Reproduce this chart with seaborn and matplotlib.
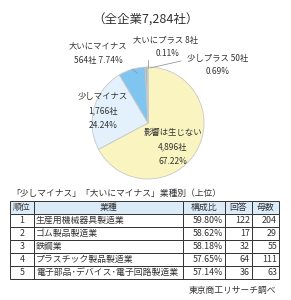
import matplotlib
matplotlib.use('Agg')
import matplotlib.pyplot as plt
from matplotlib.patches import Rectangle
import seaborn as sns

# pie data (clockwise from the top)
categories = ['影響は生じない', '少しマイナス', '大いにマイナス', '少しプラス', '大いにプラス']
companies = [4896, 1766, 564, 50, 8]
shares = [67.22, 24.24, 7.74, 0.69, 0.11]

# table data
table_title = '「少しマイナス」「大いにマイナス」業種別（上位）'
headers = ['順位', '業種', '構成比', '回答', '母数']
ranks = [1, 2, 3, 4, 5]
industries = ['生産用機械器具製造業', 'ゴム製品製造業', '鉄鋼業', 'プラスチック製品製造業',
              '電子部品･デバイス･電子回路製造業']
ratios = [59.80, 58.62, 58.18, 57.65, 57.14]
answers = [122, 17, 32, 64, 36]
totals = [204, 29, 55, 111, 63]

sns.set_theme(style='white')
plt.rcParams['font.family'] = ['Noto Sans CJK JP', 'DejaVu Sans']

W, H = 291, 300
fig = plt.figure(figsize=(W / 100, H / 100), dpi=100)
ax = fig.add_axes([0, 0, 1, 1])

def Y(py):
    return H - py

txt = '#333333'
colors = ['#faf5c0', '#e3f1fc', '#80c4f0', '#b5b5b5', '#9a9a9a']
ax.pie(shares, colors=colors, startangle=90, counterclock=False,
       center=(148, Y(123)), radius=56, frame=True,
       wedgeprops=dict(edgecolor='#c8c8c8', linewidth=0.6))
ax.set_xlim(0, W)
ax.set_ylim(0, H)
ax.axis('off')

ax.text(145, Y(20), '（全企業7,284社）', ha='center', va='center', fontsize=9, color=txt)

fs = 6
ax.text(173, Y(132), categories[0], ha='center', va='center', fontsize=fs, color=txt)
ax.text(173, Y(147), f'{companies[0]:,}社', ha='center', va='center', fontsize=fs, color=txt)
ax.text(173, Y(161), f'{shares[0]:.2f}%', ha='center', va='center', fontsize=fs, color=txt)

ax.text(103, Y(97), categories[1], ha='center', va='center', fontsize=fs, color=txt)
ax.text(103, Y(111), f'{companies[1]:,}社', ha='center', va='center', fontsize=fs, color=txt)
ax.text(103, Y(125), f'{shares[1]:.2f}%', ha='center', va='center', fontsize=fs, color=txt)

ax.text(98, Y(46), categories[2], ha='center', va='center', fontsize=fs, color=txt)
ax.text(98, Y(61), f'{companies[2]}社 {shares[2]:.2f}%', ha='center', va='center', fontsize=fs, color=txt)

ax.text(218, Y(58), f'{categories[3]} {companies[3]}社', ha='center', va='center', fontsize=fs, color=txt)
ax.text(218, Y(72), f'{shares[3]:.2f}%', ha='center', va='center', fontsize=fs, color=txt)

ax.text(166, Y(40), f'{categories[4]} {companies[4]}社', ha='center', va='center', fontsize=fs, color=txt)
ax.text(168, Y(54), f'{shares[4]:.2f}%', ha='center', va='center', fontsize=fs, color=txt)

# leader lines
lc = '#999999'
ax.plot([132, 137], [Y(69), Y(73)], color=lc, lw=0.6)
ax.plot([148, 148], [Y(60), Y(68)], color=lc, lw=0.6)
ax.plot([150, 181], [Y(68), Y(61)], color=lc, lw=0.6)

# table
ax.text(11, Y(193), table_title, ha='left', va='center', fontsize=6.3, color=txt)
col_x = [10, 34, 183, 225, 252, 279]
top, rh = 201, 13
header_bg = '#dcebf8'
tfs = 6.4
for j, h in enumerate(headers):
    x0, x1 = col_x[j], col_x[j + 1]
    ax.add_patch(Rectangle((x0, Y(top + rh)), x1 - x0, rh, facecolor=header_bg,
                           edgecolor='#333333', lw=0.7))
    ax.text((x0 + x1) / 2, Y(top + rh / 2), h, ha='center', va='center', fontsize=tfs, color=txt)

for i in range(len(ranks)):
    yc = top + rh * (i + 1)
    cells = [str(ranks[i]), industries[i], f'{ratios[i]:.2f}%', str(answers[i]), str(totals[i])]
    aligns = ['center', 'left', 'right', 'right', 'right']
    for j, c in enumerate(cells):
        x0, x1 = col_x[j], col_x[j + 1]
        ax.add_patch(Rectangle((x0, Y(yc + rh)), x1 - x0, rh, facecolor='white',
                               edgecolor='#333333', lw=0.7))
        if aligns[j] == 'center':
            tx = (x0 + x1) / 2
        elif aligns[j] == 'left':
            tx = x0 + 2
        else:
            tx = x1 - 2
        ax.text(tx, Y(yc + rh / 2), c, ha=aligns[j], va='center', fontsize=tfs, color=txt)

ax.text(276, Y(290), '東京商工リサーチ調べ', ha='right', va='center', fontsize=6.3, color=txt)

fig.savefig('out.png', dpi=100, facecolor='white')
